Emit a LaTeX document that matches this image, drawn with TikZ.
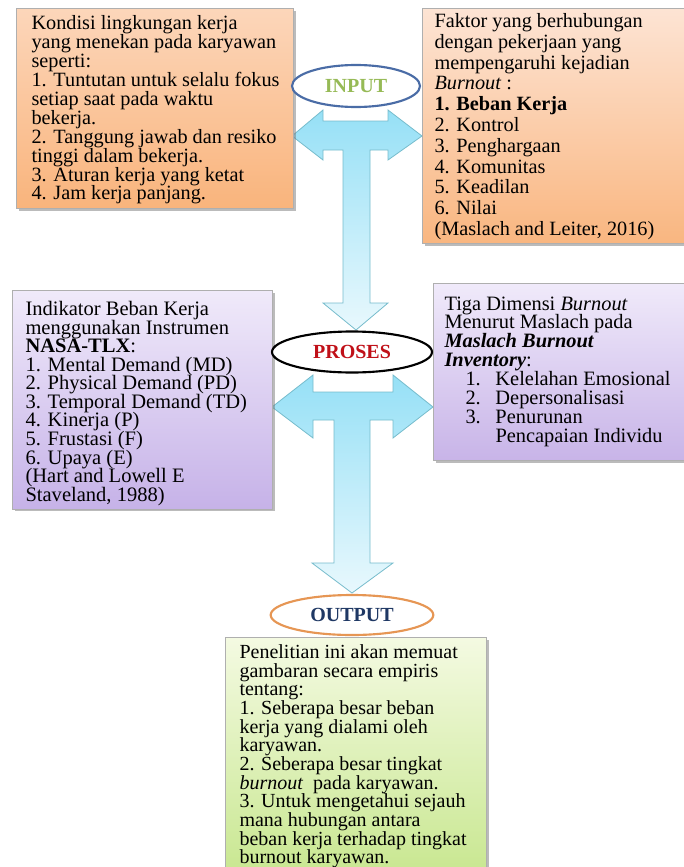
\documentclass[tikz,border=0pt]{standalone}
\usepackage{fontspec}
\setmainfont{Liberation Serif}
\usetikzlibrary{shapes.geometric,shadows}

\newcommand{\barisrapat}{\lineskiplimit=-20pt\relax}

\tikzset{every picture/.style={line width=0.75pt}}

\begin{document}
\begin{tikzpicture}[x=0.75pt,y=0.75pt,yscale=-1,xscale=1,
  kotak/.style={draw={rgb, 255:red, 175; green, 175; blue, 175 }, line width=0.5pt, anchor=north west, inner sep=0pt,
    drop shadow={shadow xshift=1.8pt, shadow yshift=-1.8pt, fill={rgb, 255:red, 120; green, 120; blue, 120 }, opacity=0.5}},
  teks/.style={anchor=north west, inner sep=0pt, align=left},
  elips/.style={ellipse, draw, line width=1.6pt, fill=white, inner sep=0pt, font=\bfseries\fontsize{15}{15}\selectfont},
  panah/.style={draw={rgb, 255:red, 118; green, 188; blue, 204 }, line width=0.6pt,
    top color={rgb, 255:red, 150; green, 224; blue, 246 }, bottom color={rgb, 255:red, 232; green, 248; blue, 253 }}
]
\useasboundingbox (0,0) rectangle (683,867);

%Shape: Polygon (input arrow)
\draw [panah]  (292,136) -- (323,110) -- (323,121) -- (388,121) -- (388,110) -- (422,136) -- (388,160) -- (388,150) -- (370,150) -- (370,303) -- (388,303) -- (356,330) -- (323,303) -- (343,303) -- (343,150) -- (323,150) -- (323,160) -- cycle ;
%Shape: Polygon (proses arrow)
\draw [panah]  (272,407) -- (313,375) -- (313,392) -- (393,392) -- (393,375) -- (433,407) -- (393,438) -- (393,420) -- (370,420) -- (370,563) -- (393,563) -- (352,593) -- (312,563) -- (334,563) -- (334,420) -- (313,420) -- (313,438) -- cycle ;

%Shape: Rectangle
\node [kotak, top color={rgb, 255:red, 252; green, 214; blue, 186 }, bottom color={rgb, 255:red, 249; green, 180; blue, 124 }, minimum width=207.75pt, minimum height=150pt] (kondisi) at (16,8) {};
%Shape: Rectangle
\node [kotak, top color={rgb, 255:red, 253; green, 228; blue, 212 }, bottom color={rgb, 255:red, 249; green, 182; blue, 128 }, minimum width=201pt, minimum height=176.25pt] (faktor) at (422,8) {};
%Shape: Rectangle
\node [kotak, top color={rgb, 255:red, 240; green, 234; blue, 250 }, bottom color={rgb, 255:red, 198; green, 178; blue, 232 }, minimum width=195pt, minimum height=164pt] (indikator) at (12,290) {};
%Shape: Rectangle
\node [kotak, top color={rgb, 255:red, 240; green, 234; blue, 250 }, bottom color={rgb, 255:red, 200; green, 180; blue, 232 }, minimum width=192.75pt, minimum height=132.75pt] (dimensi) at (433,283) {};
%Shape: Rectangle
\node [kotak, top color={rgb, 255:red, 244; green, 250; blue, 226 }, bottom color={rgb, 255:red, 198; green, 230; blue, 140 }, minimum width=195.75pt, minimum height=187.5pt] (hasil) at (225,637) {};

%Shape: Ellipse
\node [elips, draw={rgb, 255:red, 74; green, 108; blue, 166 }, text={rgb, 255:red, 150; green, 186; blue, 86 }, minimum width=96pt, minimum height=31.5pt] (input) at (356,86) {INPUT};
%Shape: Ellipse
\node [elips, draw=black, text={rgb, 255:red, 192; green, 16; blue, 24 }, minimum width=120pt, minimum height=30.75pt] (proses) at (352,352) {PROSES};
%Shape: Ellipse
\node [elips, draw={rgb, 255:red, 230; green, 150; blue, 84 }, text={rgb, 255:red, 31; green, 56; blue, 100 }, minimum width=122pt, minimum height=30pt] (output) at (352,615) {OUTPUT};

% Text Node
\node [teks, font=\fontsize{15.2}{14.2}\selectfont] (kondisi teks) at (31,15) {Kondisi lingkungan kerja\\
yang menekan pada karyawan\\
seperti:\\
1. Tuntutan untuk selalu fokus\\
setiap saat pada waktu\\
bekerja.\\
2. Tanggung jawab dan resiko\\
tinggi dalam bekerja.\\
3. Aturan kerja yang ketat\\
4. Jam kerja panjang.};
% Text Node
\node [teks, font=\fontsize{15.2}{15.6}\selectfont] (faktor teks) at (434,13) {Faktor yang berhubungan\\
dengan pekerjaan yang\\
mempengaruhi kejadian\\
\textit{Burnout} :\\
\textbf{1. Beban Kerja}\\
2. Kontrol\\
3. Penghargaan\\
4. Komunitas\\
5. Keadilan\\
6. Nilai\\
(Maslach and Leiter, 2016)};
% Text Node
\node [teks, font={\fontsize{15.4}{13.9}\selectfont\barisrapat}] (indikator teks) at (25,301) {Indikator Beban Kerja\\
menggunakan Instrumen\\
\textbf{NASA-TLX}:\\
1. Mental Demand (MD)\\
2. Physical Demand (PD)\\
3. Temporal Demand (TD)\\
4. Kinerja (P)\\
5. Frustasi (F)\\
6. Upaya (E)\\
(Hart and Lowell E\\
Staveland, 1988)};
% Text Node
\node [teks, font=\fontsize{15.3}{14.2}\selectfont] (dimensi teks) at (444,296) {Tiga Dimensi \textit{Burnout}\\
Menurut Maslach pada\\
\textbf{\textit{Maslach Burnout}}\\
\textbf{\textit{Inventory}}:\\
\hspace*{15.75pt}\makebox[22.5pt][l]{1.}Kelelahan Emosional\\
\hspace*{15.75pt}\makebox[22.5pt][l]{2.}Depersonalisasi\\
\hspace*{15.75pt}\makebox[22.5pt][l]{3.}Penurunan\\
\hspace*{38.25pt}Pencapaian Individu};
% Text Node
\node [teks, font=\fontsize{15}{14}\selectfont] (hasil teks) at (239,644) {Penelitian ini akan memuat\\
gambaran secara empiris\\
tentang:\\
1. Seberapa besar beban\\
kerja yang dialami oleh\\
karyawan.\\
2. Seberapa besar tingkat\\
\textit{burnout}\ \ pada karyawan.\\
3. Untuk mengetahui sejauh\\
mana hubungan antara\\
beban kerja terhadap tingkat\\
burnout karyawan.};

\end{tikzpicture}
\end{document}
